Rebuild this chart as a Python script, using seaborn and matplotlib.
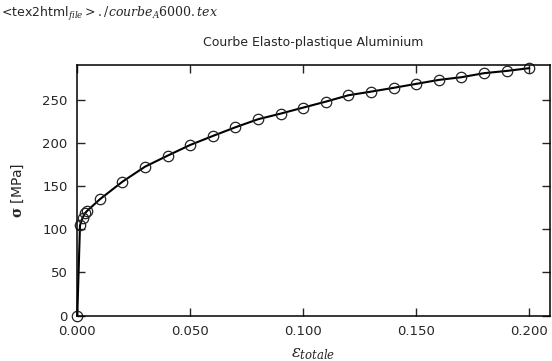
import numpy as np
import pandas as pd
import matplotlib
matplotlib.use("Agg")
import matplotlib.pyplot as plt
import seaborn as sns

# strain / stress
eps = [0.0, 0.0012, 0.0024, 0.0034, 0.0044, 0.01, 0.02, 0.03, 0.04, 0.05,
       0.06, 0.07, 0.08, 0.09, 0.10, 0.11, 0.12, 0.13, 0.14, 0.15,
       0.16, 0.17, 0.18, 0.19, 0.20]
sigma = [0.0, 104.5, 113.5, 118.5, 121.5, 134.8, 155.2, 172.6, 185.4, 197.8,
         208.2, 218.3, 227.6, 234.1, 241.1, 248.0, 255.4, 259.6, 264.0, 268.6,
         273.2, 276.3, 281.0, 283.6, 286.8]
xticks = [0.0, 0.05, 0.10, 0.15, 0.20]
yticks = [0, 50, 100, 150, 200, 250]

df = pd.DataFrame({"eps": eps, "sigma": sigma})

sns.set_style("ticks")
plt.rcParams["font.family"] = ["DejaVu Sans"]
plt.rcParams["mathtext.fontset"] = "dejavuserif"

fig = plt.figure(figsize=(5.52, 3.61), dpi=100)
ax = fig.add_axes([0.140, 0.126, 0.8564, 0.694])

sns.lineplot(data=df, x="eps", y="sigma", ax=ax, color="black", linewidth=1.5,
             marker="o", markersize=7.5, markerfacecolor="none",
             markeredgecolor="#222222", markeredgewidth=0.9)
for ln in ax.lines:
    ln.set_clip_on(False)

ax.set_xlim(0, 0.2092)
ax.set_ylim(0, 290.5)
ax.set_xticks(xticks)
ax.set_xticklabels([f"{v:.3f}" for v in xticks])
ax.set_yticks(yticks)
ax.tick_params(direction="in", top=True, right=True, length=6, width=1,
               labelsize=9.5, pad=7)
for s in ax.spines.values():
    s.set_linewidth(1.1)
    s.set_color("black")

ax.set_xlabel(r"$\varepsilon_{totale}$", fontsize=12, labelpad=4)
ax.set_ylabel(r"$\mathbf{\sigma}$ [MPa]", fontsize=10, labelpad=12)
ax.set_title("Courbe Elasto-plastique Aluminium", fontsize=9, pad=14)

fig.text(0.002, 0.985, r"<tex2html$_{file} > ./courbe_{A}\mathrm{6000}.tex$",
         fontsize=9, va="top", ha="left")

fig.savefig("out.png", dpi=100)
